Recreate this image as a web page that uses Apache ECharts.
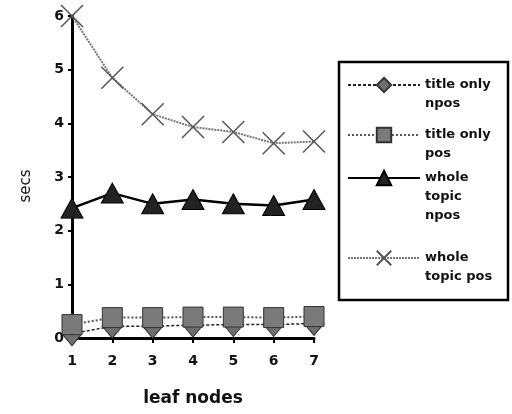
<!DOCTYPE html>
<html><head><meta charset="utf-8">
<script src="https://cdn.jsdelivr.net/npm/echarts@6/dist/echarts.min.js"></script>
<style>html,body{margin:0;padding:0;background:#fff}#c{width:512px;height:414px}</style>
</head><body><div id="c"></div>
<script>
const leafNodes = [1, 2, 3, 4, 5, 6, 7];
const titleOnlyNpos = [0.08, 0.22, 0.22, 0.24, 0.25, 0.25, 0.27];
const titleOnlyPos = [0.25, 0.38, 0.38, 0.39, 0.39, 0.38, 0.40];
const wholeTopicNpos = [2.42, 2.70, 2.50, 2.58, 2.50, 2.47, 2.58];
const wholeTopicPos = [6.00, 4.85, 4.17, 3.93, 3.84, 3.63, 3.66];
const seriesNames = ['title only npos', 'title only pos', 'whole topic npos', 'whole topic pos'];
const legendLabels = ['title only\nnpos', 'title only\npos', 'whole\ntopic\nnpos', 'whole\ntopic pos'];
const yTicks = [0, 1, 2, 3, 4, 5, 6];

const FONT = 'DejaVu Sans';
const LH = 19;
function pair(arr) { return leafNodes.map((x, i) => [x, arr[i]]); }

const legendTops = [85, 135, 178, 258];
const legends = seriesNames.map((n, i) => {
  const lines = legendLabels[i].split('\n').length;
  const txt = ' \n'.repeat(lines - 1) + legendLabels[i];
  return {
    data: [n], orient: 'vertical', left: 347,
    top: legendTops[i] - (2 * lines - 1) * LH / 2,
    padding: 0, itemWidth: 72, itemHeight: 18, itemGap: 0,
    selectedMode: false,
    formatter: () => txt,
    textStyle: {fontFamily: FONT, fontWeight: 'bold', fontSize: 13, color: '#111', lineHeight: LH}
  };
});

const chart = echarts.init(document.getElementById('c'), null, {renderer: 'canvas'});
chart.setOption({
  animation: false,
  backgroundColor: '#fff',
  grid: {left: 72, right: 198, top: 16, bottom: 76, containLabel: false},
  legend: legends,
  graphic: [{type: 'rect', shape: {x: 339, y: 62, width: 169, height: 238},
    style: {fill: 'none', stroke: '#000', lineWidth: 2.5}, z: 0}],
  xAxis: {
    type: 'value', min: 1, max: 7, interval: 1,
    name: 'leaf nodes', nameLocation: 'middle', nameGap: 52,
    nameTextStyle: {fontFamily: FONT, fontWeight: 'bold', fontSize: 17, color: '#111'},
    axisLine: {lineStyle: {color: '#000', width: 3}},
    axisTick: {show: true, length: 5, lineStyle: {color: '#000', width: 2}},
    axisLabel: {fontFamily: FONT, fontWeight: 'bold', fontSize: 14, color: '#111', margin: 16},
    splitLine: {show: false}
  },
  yAxis: {
    type: 'value', min: 0, max: 6, interval: 1,
    name: 'secs', nameLocation: 'middle', nameGap: 38, nameRotate: 90,
    nameTextStyle: {fontFamily: FONT, fontSize: 15, color: '#111', padding: [0, 18, 0, 0]},
    axisLine: {show: true, lineStyle: {color: '#000', width: 3}},
    axisTick: {show: true, length: 4, lineStyle: {color: '#000', width: 2}},
    axisLabel: {fontFamily: FONT, fontWeight: 'bold', fontSize: 14, color: '#111', margin: 8,
      formatter: v => yTicks.includes(v) ? String(v) : ''},
    splitLine: {show: false}
  },
  series: [
    {name: seriesNames[0], type: 'line', data: pair(titleOnlyNpos),
     symbol: 'diamond', symbolSize: [20, 24],
     lineStyle: {color: '#222', width: 1.5, type: [3, 2]},
     itemStyle: {color: '#6e6e6e', borderColor: '#333', borderWidth: 1}},
    {name: seriesNames[1], type: 'line', data: pair(titleOnlyPos),
     symbol: 'rect', symbolSize: 20,
     lineStyle: {color: '#555', width: 2, type: [2, 2]},
     itemStyle: {color: '#7a7a7a', borderColor: '#333', borderWidth: 1}},
    {name: seriesNames[2], type: 'line', data: pair(wholeTopicNpos),
     symbol: 'triangle', symbolSize: [22, 20],
     lineStyle: {color: '#000', width: 2.5},
     itemStyle: {color: '#222', borderColor: '#000', borderWidth: 1}},
    {name: seriesNames[3], type: 'line', data: pair(wholeTopicPos),
     symbol: 'path://M0,0L20,20M20,0L0,20', symbolSize: 22,
     lineStyle: {color: '#777', width: 2, type: [2, 1]},
     itemStyle: {color: 'rgba(0,0,0,0)', borderColor: '#555', borderWidth: 1.5}}
  ]
});
</script></body></html>
